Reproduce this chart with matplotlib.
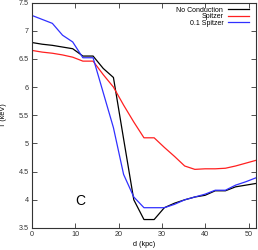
import matplotlib
matplotlib.use("Agg")
import matplotlib.pyplot as plt
import numpy as np

plt.rcParams['font.family'] = ['Liberation Sans', 'DejaVu Sans']

d_kpc = [0, 2.35, 4.7, 7.05, 9.4, 11.75, 14.1, 16.45, 18.8, 21.15, 23.5, 25.85,
         28.2, 30.55, 32.9, 35.25, 37.6, 39.95, 42.3, 44.65, 47.0, 49.35, 51.7]
t_none = [6.79, 6.76, 6.74, 6.71, 6.68, 6.55, 6.55, 6.33, 6.17, 5.08, 4.0, 3.65,
          3.65, 3.86, 3.94, 4.0, 4.05, 4.08, 4.16, 4.16, 4.23, 4.26, 4.29]
t_spitzer = [6.65, 6.62, 6.60, 6.57, 6.53, 6.46, 6.46, 6.22, 6.0, 5.68, 5.38, 5.1,
             5.1, 4.93, 4.77, 4.6, 4.54, 4.55, 4.55, 4.56, 4.6, 4.65, 4.70]
t_01spitzer = [7.27, 7.20, 7.13, 6.92, 6.80, 6.52, 6.52, 5.9, 5.28, 4.45, 4.05, 3.86,
               3.86, 3.86, 3.92, 4.0, 4.05, 4.1, 4.17, 4.17, 4.26, 4.32, 4.39]
labels = ["No Conduction", "Spitzer", "0.1 Spitzer"]
xticks = [0, 10, 20, 30, 40, 50]
yticks = [3.5, 4, 4.5, 5, 5.5, 6, 6.5, 7, 7.5]

fig = plt.figure(figsize=(2.58, 2.5), dpi=100)
ax = fig.add_axes([0.124, 0.088, 0.868, 0.902])
ax.plot(d_kpc, t_none, color="black", lw=0.9, label=labels[0])
ax.plot(d_kpc, t_spitzer, color="#ff2020", lw=0.9, label=labels[1])
ax.plot(d_kpc, t_01spitzer, color="#3030ff", lw=0.9, label=labels[2])

ax.set_xlim(0, 51.7)
ax.set_ylim(3.5, 7.5)
ax.set_xticks(xticks)
ax.set_yticks(yticks)
ax.set_yticklabels([f"{v:g}" for v in yticks])
ax.tick_params(direction="in", length=3.5, width=0.6, labelsize=5.2,
               top=True, right=True, pad=2.5, colors="#333333")
for s in ax.spines.values():
    s.set_color("#333333")
    s.set_linewidth(0.8)
ax.set_xlabel("d (kpc)", fontsize=5.2, labelpad=2)
ax.set_ylabel("T (keV)", fontsize=5.2)
ax.yaxis.set_label_coords(-0.11, 0.5)
ax.text(11.1, 3.98, "C", fontsize=10, ha="center", va="center")
leg = ax.legend(loc="upper right", frameon=False, fontsize=5.0, markerfirst=False,
                handlelength=3.0, handletextpad=0.7, labelspacing=-0.05,
                borderaxespad=0, borderpad=0, bbox_to_anchor=(0.969, 0.982))
fig.savefig("out.png", dpi=100)
